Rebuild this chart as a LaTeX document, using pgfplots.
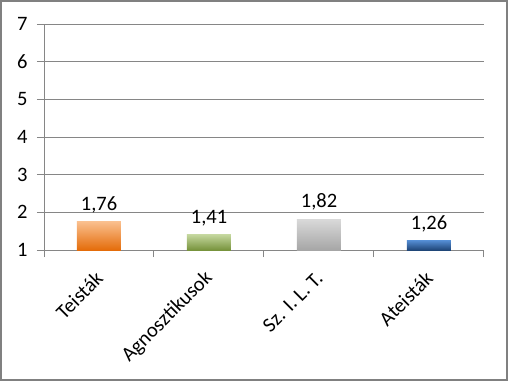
\documentclass[border=0pt]{standalone}
\usepackage{pgfplots}
\pgfplotsset{compat=1.18}
\usepackage{fontspec}
\setmainfont{Carlito}
\definecolor{gridc}{RGB}{134,134,134}
\definecolor{framec}{RGB}{128,128,128}
\definecolor{orT}{RGB}{250,192,143}
\definecolor{orB}{RGB}{228,108,10}
\definecolor{grT}{RGB}{196,215,158}
\definecolor{grB}{RGB}{119,147,60}
\definecolor{gyT}{RGB}{217,217,217}
\definecolor{gyB}{RGB}{166,166,166}
\definecolor{blT}{RGB}{85,142,213}
\definecolor{blB}{RGB}{31,70,120}
\newcommand{\cf}{\fontsize{20.5bp}{24bp}\selectfont}
\begin{document}
\begin{tikzpicture}
\begin{axis}[
  at={(0,0)}, anchor=south west,
  scale only axis, width=440bp, height=226bp,
  xmin=-0.5, xmax=3.5, ymin=0, ymax=6,
  axis lines*=left,
  axis line style={gridc, line width=1bp},
  ytick={0,1,2,3,4,5,6},
  yticklabels={1,2,3,4,5,6,7},
  ymajorgrids, grid style={gridc, line width=1bp},
  xtick={0,1,2,3},
  xticklabels={Teisták, Agnosztikusok, {Sz. I. L. T.}, Ateisták},
  minor xtick={-0.5,0.5,1.5,2.5,3.5},
  tick align=outside,
  major tick length=7bp, minor tick length=7bp,
  tick style={gridc, line width=1bp},
  major x tick style={draw=none},
  tick label style={font=\cf, text=black},
  yticklabel style={xshift=-6bp},
  xticklabel style={rotate=45, anchor=east, xshift=-9bp, yshift=-13bp},
  ybar, bar width=0.4, bar shift=0pt,
  point meta=explicit,
  nodes near coords,
  nodes near coords style={font=\cf, text=black, yshift=5bp,
    /pgf/number format/.cd, assume math mode=true, use comma, fixed, fixed zerofill, precision=2},
  clip=false,
]
\addplot[draw=none, top color=orT, bottom color=orB] coordinates {(0,0.76) [1.76]};
\addplot[draw=none, top color=grT, bottom color=grB] coordinates {(1,0.41) [1.41]};
\addplot[draw=none, top color=gyT, bottom color=gyB] coordinates {(2,0.82) [1.82]};
\addplot[draw=none, top color=blT, bottom color=blB] coordinates {(3,0.26) [1.26]};
\end{axis}
\draw[line width=2.5bp, framec] (-42.75bp,-129.75bp) rectangle (462.75bp,248.75bp);
\end{tikzpicture}
\end{document}
